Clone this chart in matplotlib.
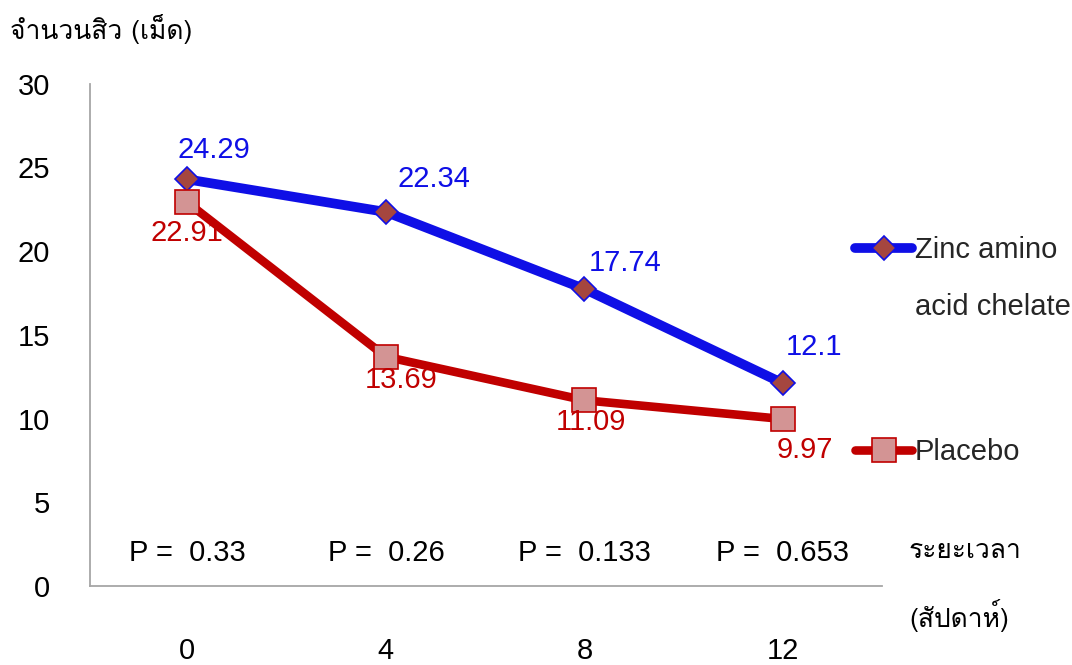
import matplotlib
matplotlib.use("Agg")
import matplotlib.pyplot as plt
from matplotlib import font_manager
from matplotlib.ft2font import FT2Font

weeks = ["0", "4", "8", "12"]
zinc = [24.29, 22.34, 17.74, 12.1]
placebo = [22.91, 13.69, 11.09, 9.97]
p_values = ["0.33", "0.26", "0.133", "0.653"]
y_ticks = [0, 5, 10, 15, 20, 25, 30]

# label offsets in pixels (dx, dy) relative to each point
zinc_offsets = [(27, 29), (48, 33), (41, 26), (31, 36)]
placebo_offsets = [(0, -31), (15, -23), (7, -22), (22, -31)]


def find_thai_font():
    for f in font_manager.fontManager.ttflist:
        try:
            if 0x0E08 in FT2Font(f.fname).get_charmap():
                return f.name
        except Exception:
            continue
    return None


thai = find_thai_font()
base = ["Liberation Sans", "DejaVu Sans"]
plt.rcParams["font.family"] = base + ([thai] if thai else [])
thai_family = ([thai] if thai else []) + base

BLUE = "#0F0FE6"
RED = "#C00000"
FS = 21
FS_THAI = 19

fig = plt.figure(figsize=(10.72, 6.65), dpi=100)
ax = fig.add_axes([0.084, 0.119, 0.739, 0.755])

x = list(range(len(weeks)))
h_zinc, = ax.plot(x, zinc, color=BLUE, lw=7, marker="D", ms=12.5,
                  mfc="#A5463F", mec=BLUE, mew=1.2, solid_capstyle="round", zorder=3)
h_plac, = ax.plot(x, placebo, color=RED, lw=6.2, marker="s", ms=17.5,
                  mfc="#D39494", mec=RED, mew=1.2, solid_capstyle="round", zorder=3)

for xi, v, (dx, dy) in zip(x, zinc, zinc_offsets):
    ax.annotate(f"{v:g}", (xi, v), xytext=(dx, dy), textcoords="offset pixels",
                ha="center", va="center", color=BLUE, fontsize=FS)
for xi, v, (dx, dy) in zip(x, placebo, placebo_offsets):
    ax.annotate(f"{v:g}", (xi, v), xytext=(dx, dy), textcoords="offset pixels",
                ha="center", va="center", color=RED, fontsize=FS)

for xi, p in zip(x, p_values):
    ax.text(xi, 1.97, f"P =  {p}", ha="center", va="center", fontsize=FS, color="black")

ax.set_xlim(-0.49, 3.5)
ax.set_ylim(0, 30)
ax.set_xticks(x)
ax.set_xticklabels(weeks)
ax.set_yticks(y_ticks)
ax.tick_params(axis="x", length=0, pad=37, labelsize=FS)
ax.tick_params(axis="y", length=0, pad=29, labelsize=FS)
for s in ["top", "right"]:
    ax.spines[s].set_visible(False)
for s in ["left", "bottom"]:
    ax.spines[s].set_color("#A6A6A6")
    ax.spines[s].set_linewidth(1.3)

leg_kw = dict(loc="center left", frameon=False, fontsize=FS, handlelength=1.95,
              handletextpad=0.1, numpoints=1, borderaxespad=0, borderpad=0,
              labelcolor="#262626")
leg1 = ax.legend([h_zinc], ["Zinc amino"], bbox_to_anchor=(0.966, 0.669), **leg_kw)
ax.add_artist(leg1)
ax.legend([h_plac], ["Placebo"], bbox_to_anchor=(0.966, 0.266), **leg_kw)
fig.text(0.854, 0.538, "acid chelate", fontsize=FS, va="center", ha="left",
         color="#262626")

fig.text(0.009, 0.957, "จำนวนสิว (เม็ด)", fontsize=FS_THAI, va="center", ha="left",
         family=thai_family)
fig.text(0.848, 0.172, "ระยะเวลา", fontsize=FS_THAI, va="center", ha="left",
         family=thai_family)
fig.text(0.848, 0.075, "(สัปดาห์)", fontsize=FS_THAI, va="center", ha="left",
         family=thai_family)

fig.savefig("out.png", dpi=100)
